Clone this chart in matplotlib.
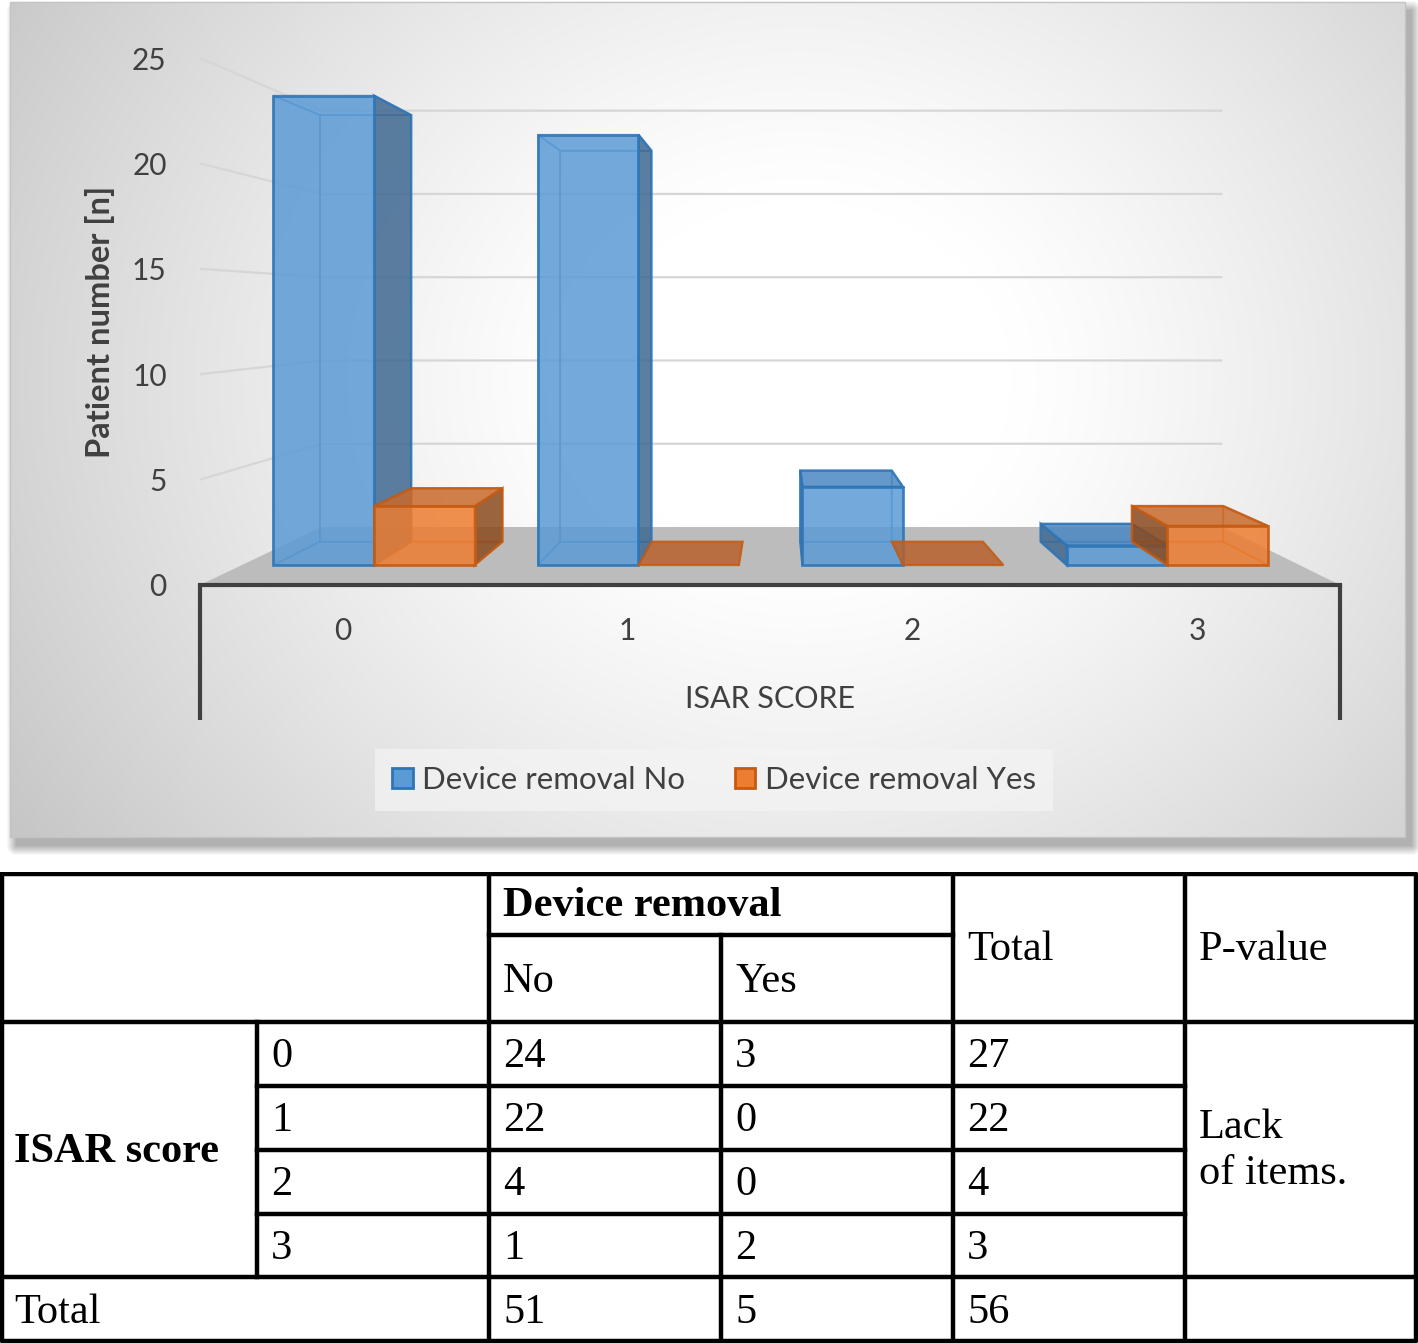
import numpy as np
import matplotlib.pyplot as plt
from matplotlib.patches import Polygon, Patch, Rectangle

# ---- data ----
categories = ['0', '1', '2', '3']
removal_no = [24, 22, 4, 1]
removal_yes = [3, 0, 0, 2]
series_names = ['Device removal No', 'Device removal Yes']
y_ticks = [0, 5, 10, 15, 20, 25]
table_rows = ['0', '1', '2', '3']
p_value_text = 'Lack\nof items.'

# ---- figure ----
W, H = 1418, 1343
fig = plt.figure(figsize=(W / 100, H / 100), dpi=100)
fig.patch.set_facecolor('white')

sans = ['Lato', 'DejaVu Sans']
serif = ['Liberation Serif', 'DejaVu Serif']
txt = '#404040'

# background: drop shadow + radial gradient panel
bg = fig.add_axes([0, 0, 1, 1], zorder=0)
bg.set_xlim(0, W)
bg.set_ylim(H, 0)
bg.axis('off')

px0, py0, px1, py1 = 10, 2, 1405, 837
yy, xx = np.mgrid[0:H, 0:W]
dx = np.maximum.reduce([px0 + 6 - xx, np.zeros_like(xx), xx - (px1 + 6)])
dy = np.maximum.reduce([py0 + 8 - yy, np.zeros_like(yy), yy - (py1 + 8)])
dist = np.hypot(dx, dy)
shadow = np.zeros((H, W, 4))
shadow[..., :3] = 0.45
shadow[..., 3] = 0.55 * np.clip(1 - dist / 10, 0, 1)
bg.imshow(shadow, extent=(0, W, H, 0), interpolation='bilinear', zorder=0)

gy, gx = np.mgrid[py0:py1, px0:px1]
d = np.hypot((gx - 800) / 700, (gy - 380) / 600)
v = 1 - 0.21 * np.clip((d - 0.3) / 1.0, 0, 1.25) ** 1.2
grad = np.dstack([v, v, v])
bg.imshow(grad, extent=(px0, px1, py1, py0), interpolation='bilinear', zorder=1)
bg.add_patch(Rectangle((px0, py0), px1 - px0, py1 - py0, fill=False,
                       ec='#c4c4c4', lw=1, zorder=2))

# ---- chart axes: data coordinates = front plane of the 3D box ----
ax = fig.add_axes([200 / W, 1 - 585 / H, 1140 / W, 527 / H], zorder=2)
ax.set_xlim(-0.5, 3.5)
ax.set_ylim(0, 25)
ax.patch.set_alpha(0)
for sp in ax.spines.values():
    sp.set_visible(False)

# perspective view (vanishing point in data units, depth scales)
VX, VY = 1.535, 13.1
S_WALL, S_FRONT, S_BACK = 0.79, 0.928, 0.843
BAR_W = 0.38
FRAME_DEPTH = -6.4


def proj(x, y, s):
    return (VX + s * (x - VX), VY + s * (y - VY))


# floor
floor = [proj(-0.5, 0, 1), proj(3.5, 0, 1), proj(3.5, 0, S_WALL), proj(-0.5, 0, S_WALL)]
ax.add_patch(Polygon(floor, closed=True, fc='#bcbcbc', ec='none', zorder=1))

# gridlines on side wall and back wall
for t in y_ticks[1:]:
    a = proj(-0.5, t, S_WALL)
    b = proj(3.5, t, S_WALL)
    ax.plot([-0.5, a[0], b[0]], [t, a[1], b[1]], color='#d6d6d6', lw=1.6,
            zorder=1.5, clip_on=False, solid_capstyle='butt')


def draw_box(x0, x1, h, face, side, top, edge):
    sf, sb = S_FRONT, S_BACK
    if h == 0:
        poly = [proj(x0, 0, sf), proj(x1, 0, sf), proj(x1, 0, sb), proj(x0, 0, sb)]
        ax.add_patch(Polygon(poly, closed=True, fc='#b8612a', ec=edge, alpha=0.85,
                             lw=1.5, zorder=3))
        return
    back = [proj(x0, 0, sb), proj(x1, 0, sb), proj(x1, h, sb), proj(x0, h, sb)]
    front = [proj(x0, 0, sf), proj(x1, 0, sf), proj(x1, h, sf), proj(x0, h, sf)]
    left = [proj(x0, 0, sf), proj(x0, 0, sb), proj(x0, h, sb), proj(x0, h, sf)]
    right = [proj(x1, 0, sf), proj(x1, 0, sb), proj(x1, h, sb), proj(x1, h, sf)]
    topf = [proj(x0, h, sf), proj(x1, h, sf), proj(x1, h, sb), proj(x0, h, sb)]
    bottom = [proj(x0, 0, sf), proj(x1, 0, sf), proj(x1, 0, sb), proj(x0, 0, sb)]

    hidden = [back, bottom]
    visible = []
    if x1 <= VX:
        visible.append((right, side))
        hidden.append(left)
    elif x0 >= VX:
        visible.append((left, side))
        hidden.append(right)
    else:
        hidden += [left, right]
    if h < VY:
        visible.append((topf, top))
    else:
        hidden.append(topf)

    for poly in hidden:
        ax.add_patch(Polygon(poly, closed=True, fill=False, ec=edge, alpha=0.5,
                             lw=1.3, zorder=3))
    for poly, c in visible:
        ax.add_patch(Polygon(poly, closed=True, fc=c, ec=edge, alpha=0.85,
                             lw=1.8, zorder=3))
    ax.add_patch(Polygon(front, closed=True, fc=face, ec=edge, alpha=0.85,
                         lw=2.0, zorder=3))


blue = dict(face='#5b9bd5', side='#3e6891', top='#4a86c2', edge='#2e75b6')
orange = dict(face='#ed7d31', side='#8a4a1f', top='#c96a2c', edge='#c55a11')

for i in range(len(categories)):
    draw_box(i - BAR_W, i, removal_no[i], **blue)
    draw_box(i, i + BAR_W, removal_yes[i], **orange)

# axis frame
ax.plot([-0.5, 3.5], [0, 0], color='#404040', lw=3, zorder=4, clip_on=False,
        solid_capstyle='projecting')
for xe in (-0.5, 3.5):
    ax.plot([xe, xe], [0, FRAME_DEPTH], color='#404040', lw=3, zorder=4,
            clip_on=False, solid_capstyle='butt')

ax.set_yticks(y_ticks)
ax.set_yticklabels([str(t) for t in y_ticks], family=sans, fontsize=21.5, color=txt)
ax.set_xticks(range(len(categories)))
ax.set_xticklabels(categories, family=sans, fontsize=21.5, color=txt)
ax.tick_params(axis='y', length=0, pad=24)
ax.tick_params(axis='x', length=0, pad=23)
ax.set_xlabel('ISAR SCORE', family=sans, fontsize=22, color=txt, labelpad=29)
ax.set_ylabel('Patient number [n]', family=sans, fontsize=23.5, color=txt,
              fontweight='bold', labelpad=12)

handles = [Patch(fc='#5b9bd5', ec='#2e75b6', lw=2),
           Patch(fc='#ed7d31', ec='#c55a11', lw=2)]
leg = ax.legend(handles, series_names, loc='center',
                bbox_to_anchor=(714 / W, 1 - 780 / H), bbox_transform=fig.transFigure,
                ncol=2, frameon=True, facecolor='#f4f4f4', edgecolor='none',
                framealpha=0.7, fancybox=False, handlelength=0.65, handleheight=0.65,
                handletextpad=0.3, columnspacing=1.6, borderpad=0.55,
                prop={'family': sans, 'size': 22.5})
for t in leg.get_texts():
    t.set_color(txt)

# ---- table ----
tax = fig.add_axes([0, 0, 1, 471 / H], zorder=2)
tax.set_xlim(0, W)
tax.set_ylim(471, 0)
tax.axis('off')

col = [0, 257, 489, 721, 953, 1185, 1418]
row = [0, 63, 150, 214, 278, 342, 405, 471]
lw = 3.2
k = dict(color='black', lw=lw, solid_capstyle='projecting')

# outer border
tax.plot([2, W - 2, W - 2, 2, 2], [2, 2, 469, 469, 2], **k)
# vertical lines
for c in (col[2], col[4], col[5]):
    tax.plot([c, c], [row[0], row[-1]], **k)
tax.plot([col[3], col[3]], [row[1], row[-1]], **k)
tax.plot([col[1], col[1]], [row[2], row[6]], **k)
# horizontal lines
tax.plot([col[2], col[4]], [row[1], row[1]], **k)
for r in (row[2], row[6]):
    tax.plot([0, W], [r, r], **k)
for r in row[3:6]:
    tax.plot([col[1], col[5]], [r, r], **k)

fs = 30.5
pad = 14
dy_txt = 3


def cell(x, y, s, bold=False, **kw):
    tax.text(x + pad, y + dy_txt, s, family=serif, fontsize=fs, va='center', ha='left',
             fontweight='bold' if bold else 'normal', color='black', **kw)


cell(col[2], (row[0] + row[1]) / 2, 'Device removal', bold=True)
cell(col[2], (row[1] + row[2]) / 2, 'No')
cell(col[3], (row[1] + row[2]) / 2, 'Yes')
cell(col[4], (row[0] + row[2]) / 2, 'Total')
cell(col[5], (row[0] + row[2]) / 2, 'P-value')
cell(col[0], (row[2] + row[6]) / 2, 'ISAR score', bold=True)
for i, lab in enumerate(table_rows):
    yc = (row[2 + i] + row[3 + i]) / 2
    cell(col[1], yc, lab)
    cell(col[2], yc, str(removal_no[i]))
    cell(col[3], yc, str(removal_yes[i]))
    cell(col[4], yc, str(removal_no[i] + removal_yes[i]))
cell(col[5], (row[2] + row[6]) / 2 - 2, p_value_text, linespacing=1.25)
yt = (row[6] + row[7]) / 2
cell(col[0], yt, 'Total')
cell(col[2], yt, str(sum(removal_no)))
cell(col[3], yt, str(sum(removal_yes)))
cell(col[4], yt, str(sum(removal_no) + sum(removal_yes)))

fig.savefig('out.png', dpi=100)
